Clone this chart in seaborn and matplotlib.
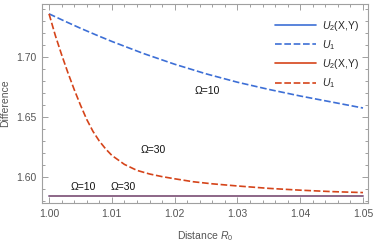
import numpy as np
import pandas as pd
import matplotlib
matplotlib.use("Agg")
import matplotlib.pyplot as plt
from matplotlib.lines import Line2D
from matplotlib.ticker import MultipleLocator, FormatStrFormatter
import seaborn as sns

# =========================
# DATA
# =========================

# Omega = 10, dashed U1
r0_w10 = [1.000, 1.0025, 1.005, 1.0075, 1.010, 1.015, 1.020, 1.025,
          1.030, 1.035, 1.040, 1.045, 1.050]
u1_w10 = [1.736, 1.7299, 1.724, 1.7184, 1.713, 1.703, 1.694, 1.686,
          1.679, 1.673, 1.6675, 1.6625, 1.6575]

# Omega = 30, dashed U1
r0_w30 = [1.000, 1.001, 1.002, 1.003, 1.004, 1.005, 1.006, 1.007, 1.008,
          1.009, 1.010, 1.012, 1.014, 1.016, 1.018, 1.020, 1.023, 1.026,
          1.030, 1.035, 1.040, 1.045, 1.050]
u1_w30 = [1.736, 1.718, 1.702, 1.687, 1.673, 1.660, 1.648, 1.638, 1.630,
          1.6235, 1.618, 1.6105, 1.6055, 1.6025, 1.6003, 1.5985, 1.596,
          1.5943, 1.5925, 1.5905, 1.589, 1.5878, 1.587]

# U2(X,Y) is flat for both
r0_flat = [1.000, 1.050]
u2_w10 = [1.5845, 1.5845]
u2_w30 = [1.5845, 1.5845]

# labels on the curves: (x, y, text)
annotations = [
    (1.0252, 1.672, "Ω=10"),
    (1.0166, 1.6225, "Ω=30"),
    (1.0054, 1.5915, "Ω=10"),
    (1.0118, 1.5915, "Ω=30"),
]

BLUE = "#3d6fd6"
RED = "#d5441a"
GRAY = "#a0a0a0"
DASH = (4, 1.6)
LW = 1.2

# =========================
# PLOT
# =========================

sns.set_style("ticks")
plt.rcParams["font.family"] = ["Liberation Sans", "DejaVu Sans"]
plt.rcParams["mathtext.fontset"] = "custom"
plt.rcParams["mathtext.it"] = "Liberation Sans:italic"
plt.rcParams["mathtext.rm"] = "Liberation Sans"

fig = plt.figure(figsize=(3.74, 2.44), dpi=100)
ax = fig.add_axes([0.1123, 0.168, 0.8717, 0.8156])

sns.lineplot(x=r0_flat, y=u2_w10, ax=ax, color=BLUE, lw=LW)
sns.lineplot(x=r0_w10, y=u1_w10, ax=ax, color=BLUE, lw=LW)
ax.lines[-1].set_dashes(DASH)
sns.lineplot(x=r0_flat, y=u2_w30, ax=ax, color=RED, lw=LW, alpha=0.5)
sns.lineplot(x=r0_w30, y=u1_w30, ax=ax, color=RED, lw=LW)
ax.lines[-1].set_dashes(DASH)

for x, y, t in annotations:
    ax.text(x, y, t, ha="center", va="center", fontsize=7.5, color="#111111")

ax.set_xlim(0.99888, 1.05080)
ax.set_ylim(1.5783, 1.7442)
ax.xaxis.set_major_locator(MultipleLocator(0.01))
ax.xaxis.set_minor_locator(MultipleLocator(0.002))
ax.yaxis.set_major_locator(MultipleLocator(0.05))
ax.yaxis.set_minor_locator(MultipleLocator(0.01))
ax.xaxis.set_major_formatter(FormatStrFormatter("%.2f"))
ax.yaxis.set_major_formatter(FormatStrFormatter("%.2f"))

ax.tick_params(which="both", direction="in", top=True, right=True,
               colors=GRAY, labelcolor="#555555", labelsize=7.5, width=0.7)
ax.tick_params(which="major", length=4, pad=4)
ax.tick_params(which="minor", length=2)
for s in ax.spines.values():
    s.set_color(GRAY)
    s.set_linewidth(0.8)

ax.set_xlabel("Distance $R_0$", fontsize=7.5, color="#555555", labelpad=8)
ax.set_ylabel("Difference", fontsize=7.5, color="#555555")
ax.yaxis.set_label_coords(-0.098, 0.5)

handles = [
    Line2D([], [], color=BLUE, lw=LW),
    Line2D([], [], color=BLUE, lw=LW, dashes=DASH),
    Line2D([], [], color=RED, lw=LW),
    Line2D([], [], color=RED, lw=LW, dashes=DASH),
]
labels = ["$U_2$(X,Y)", "$U_1$", "$U_2$(X,Y)", "$U_1$"]
ax.legend(handles, labels, loc="upper left", bbox_to_anchor=(0.715, 0.925),
          frameon=False, fontsize=7.5, handlelength=3.9, handletextpad=0.6,
          labelspacing=0.5, borderpad=0, borderaxespad=0)

fig.savefig("out.png", dpi=100)
